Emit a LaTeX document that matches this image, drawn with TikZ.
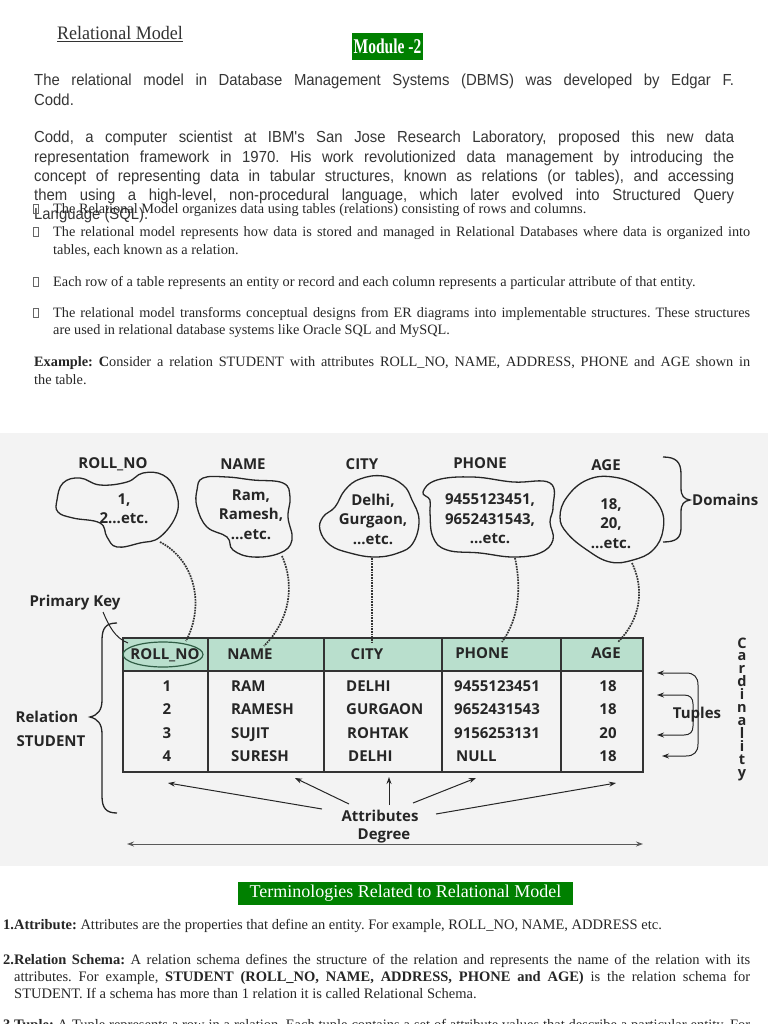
\documentclass[tikz,border=0pt]{standalone}
\usepackage{fontspec}
\setmainfont{Liberation Serif}
\newfontfamily\arialfont{Liberation Sans}[FakeStretch=0.93]
\newfontfamily\diagfont{Open Sans}
\usetikzlibrary{positioning,arrows.meta,calc}
\frenchspacing

\definecolor{modgreen}{HTML}{008000}
\definecolor{headfill}{HTML}{B9DFCD}
\definecolor{panelgray}{HTML}{F3F3F3}
\definecolor{keygreen}{HTML}{2F5D45}
\definecolor{inkgray}{HTML}{363636}

% one justified line of a paragraph
\newcommand{\jline}[2]{\makebox[#1][s]{#2}}

\tikzset{
  sanspara/.style={anchor=base west, inner sep=0pt, text=inkgray, font=\arialfont\fontsize{16}{19}\selectfont},
  serifpara/.style={anchor=base west, inner sep=0pt, text=black!85, font=\fontsize{14.3}{18}\selectfont},
  termpara/.style={anchor=base west, inner sep=0pt, text=black!85, font=\fontsize{14.5}{19}\selectfont},
  greenbox/.style={fill=modgreen, text=white, inner sep=0pt},
  bulletbox/.style={draw=black!60, line width=0.5pt},
  lbl/.style={inner sep=0pt, text=black!85, font=\diagfont\bfseries\fontsize{15}{19.5}\selectfont},
  cell/.style={lbl, anchor=base},
  lcell/.style={lbl, anchor=base west},
  blob/.style={line width=1.3pt, black!85},
  tablegrid/.style={line width=1.3pt, black!80},
  dotlink/.style={densely dotted, line width=1.7pt, black!80},
  attrarrow/.style={-{Stealth[length=7pt,width=5pt]}, line width=1pt, black!85},
  tuplearrow/.style={{Stealth[length=7pt,width=5pt]}-{Stealth[length=7pt,width=5pt]}, line width=1pt, black!85},
}

\begin{document}
\begin{tikzpicture}[x=1pt,y=-1pt]
\useasboundingbox (0,0) rectangle (768,1024);
\clip (0,0) rectangle (768,1024);
\fill[white] (0,0) rectangle (768,1024);
% grey panel behind the figure
\fill[panelgray] (0,433) rectangle (768,866);

% headings
\node[anchor=base, inner sep=0pt, text=black!80, font=\fontsize{19}{21}\selectfont] (title) at (120,40) {\underline{\scalebox{0.95}[1]{Relational Model}}};
\node[greenbox, minimum width=71, minimum height=27, font=\bfseries\fontsize{21}{22}\selectfont] (module) at (387.5,46.5) {\scalebox{0.74}[1]{Module -2}};

% intro text
\node[sanspara] (introA) at (34,86) {\jline{700pt}{The relational model in Database Management Systems (DBMS) was developed by Edgar F.}};
\node[sanspara] (introB) at (34,106) {Codd.};
\node[sanspara] (coddA) at (34,143) {\jline{700pt}{Codd, a computer scientist at IBM's San Jose Research Laboratory, proposed this new data}};
\node[sanspara] (coddB) at (34,163) {\jline{700pt}{representation framework in 1970. His work revolutionized data management by introducing the}};
\node[sanspara] (coddC) at (34,182) {\jline{700pt}{concept of representing data in tabular structures, known as relations (or tables), and accessing}};
\node[sanspara] (coddD) at (34,201) {\jline{700pt}{them using a high-level, non-procedural language, which later evolved into Structured Query}};
\node[sanspara] (coddE) at (34,220) {Language (SQL).};

% bullets
\draw[bulletbox] (33,204) rectangle (38,213);
\node[serifpara] (bulA) at (53,213.5) {The Relational Model organizes data using tables (relations) consisting of rows and columns.};
\draw[bulletbox] (33,227) rectangle (38,236);
\node[serifpara] (bulB) at (53,236.5) {\jline{697pt}{The relational model represents how data is stored and managed in Relational Databases where data is organized into}};
\node[serifpara] (bulBb) at (53,254.5) {tables, each known as a relation.};
\draw[bulletbox] (33,277) rectangle (38,286);
\node[serifpara] (bulC) at (53,286.5) {Each row of a table represents an entity or record and each column represents a particular attribute of that entity.};
\draw[bulletbox] (33,308) rectangle (38,317);
\node[serifpara] (bulD) at (53,317.5) {\jline{697pt}{The relational model transforms conceptual designs from ER diagrams into implementable structures. These structures}};
\node[serifpara] (bulDb) at (53,334.5) {are used in relational database systems like Oracle SQL and MySQL.};
\node[serifpara] (exA) at (34,366.5) {\jline{716pt}{\textbf{Example:} \textbf{C}onsider a relation STUDENT with attributes ROLL\_NO, NAME, ADDRESS, PHONE and AGE shown in}};
\node[serifpara] (exB) at (34,384.5) {the table.};

% domains
\draw[blob] plot[smooth cycle, tension=0.7] coordinates {(57,500) (63,483) (80,478) (100,485) (127,482) (143,473) (163,475) (175,490) (177,513) (160,537) (140,543) (117,547) (107,537) (100,523) (73,518) (58,512)};
\draw[blob] plot[smooth cycle, tension=0.7] coordinates {(197,490) (203,478) (227,477) (253,480) (283,483) (290,497) (288,517) (292,540) (280,553) (253,557) (233,550) (227,537) (207,527) (197,507)};
\draw[blob] plot[smooth cycle, tension=0.7] coordinates {(345,490) (360,479) (383,476) (403,485) (412,500) (419,520) (413,543) (398,553) (375,557) (350,553) (330,545) (320,530) (323,517) (335,507)};
\draw[blob] plot[smooth cycle, tension=0.7] coordinates {(423,492) (437,480) (473,477) (513,482) (550,483) (553,507) (550,522) (553,540) (540,553) (513,557) (480,553) (447,550) (433,537) (430,513) (430,500)};
\draw[blob] plot[smooth cycle, tension=0.7] coordinates {(560,517) (567,497) (587,480) (613,477) (640,487) (660,507) (663,530) (653,550) (633,560) (610,562) (587,550) (567,533)};
\node[lbl] (dRoll) at (113,464) {ROLL\_NO};
\node[lbl] (dName) at (243,464) {NAME};
\node[lbl] (dCity) at (362,464) {CITY};
\node[lbl] (dPhone) at (480,463) {PHONE};
\node[lbl] (dAge) at (606,465) {AGE};
\node[lbl, align=center] (vRoll) at (124,508.5) {1,\\2...etc.};
\node[lbl, align=center] (vName) at (251,514.5) {Ram,\\Ramesh,\\...etc.};
\node[lbl, align=center] (vCity) at (373,519) {Delhi,\\Gurgaon,\\...etc.};
\node[lbl, align=center] (vPhone) at (490,519) {9455123451,\\9652431543,\\...etc.};
\node[lbl, align=center] (vAge) at (611,523.5) {18,\\20,\\...etc.};
\draw[blob] (663,457) .. controls (676,457) and (681,462) .. (681,474) -- (681,488) .. controls (681,496) and (684,499) .. (690,500) .. controls (684,501) and (681,504) .. (681,512) -- (681,528) .. controls (681,538) and (676,542) .. (663,542);
\node[lbl, anchor=west] (domains) at (692,500) {Domains};

% table
\fill[headfill] (123,638) rectangle (643,671);
\draw[tablegrid] (123,638) rectangle (643,772);
\draw[tablegrid] (123,671) -- (643,671);
\draw[tablegrid] (208,638) -- (208,772);
\draw[tablegrid] (324,638) -- (324,772);
\draw[tablegrid] (442,638) -- (442,772);
\draw[tablegrid] (561,638) -- (561,772);
\node[cell] (hRoll) at (165,659) {ROLL\_NO};
\node[cell] (hName) at (250,659) {NAME};
\node[cell] (hCity) at (367,659) {CITY};
\node[cell] (hPhone) at (482,658) {PHONE};
\node[cell] (hAge) at (606,658) {AGE};
\draw[keygreen, line width=1.2pt] (163,654.5) ellipse [x radius=40pt, y radius=12.5pt];
\node[cell] (r1c1) at (167,691) {1};
\node[cell] (r2c1) at (167,714.5) {2};
\node[cell] (r3c1) at (167,738) {3};
\node[cell] (r4c1) at (167,761.5) {4};
\node[lcell] (r1c2) at (231,691) {RAM};
\node[lcell] (r2c2) at (231,714.5) {RAMESH};
\node[lcell] (r3c2) at (231,738) {SUJIT};
\node[lcell] (r4c2) at (231,761.5) {SURESH};
\node[lcell] (r1c3) at (346,691) {DELHI};
\node[lcell] (r2c3) at (346,714.5) {GURGAON};
\node[lcell] (r3c3) at (347,738) {ROHTAK};
\node[lcell] (r4c3) at (348,761.5) {DELHI};
\node[lcell] (r1c4) at (454,691) {9455123451};
\node[lcell] (r2c4) at (454,714.5) {9652431543};
\node[lcell] (r3c4) at (454,738) {9156253131};
\node[lcell] (r4c4) at (456,761.5) {NULL};
\node[cell] (r1c5) at (608,691) {18};
\node[cell] (r2c5) at (608,714.5) {18};
\node[cell] (r3c5) at (608,738) {20};
\node[cell] (r4c5) at (608,761.5) {18};

% dotted links domain -> column
\coordinate (bRoll) at (160,542);  \coordinate (tRoll) at (186,641);
\coordinate (bName) at (282,556);  \coordinate (tName) at (264,646);
\coordinate (bCity) at (372,558);  \coordinate (tCity) at (372,643);
\coordinate (bPhone) at (515,558); \coordinate (tPhone) at (502,642);
\coordinate (bAge) at (632,563);   \coordinate (tAge) at (618,642);
\draw[dotlink] (bRoll) .. controls (195,560) and (205,605) .. (tRoll);
\draw[dotlink] (bName) .. controls (295,585) and (290,620) .. (tName);
\draw[dotlink] (bCity) -- (tCity);
\draw[dotlink] (bPhone) .. controls (522,590) and (518,620) .. (tPhone);
\draw[dotlink] (bAge) .. controls (645,590) and (640,620) .. (tAge);

% primary key
\node[lbl] (pkey) at (75,603) {Primary Key};
\coordinate (pkStart) at (103,612);
\coordinate (pkEnd) at (128,643);
\draw[line width=1pt, black!85] (pkStart) .. controls (109,626) and (115,638) .. (pkEnd);

% relation brace
\draw[blob] (117,623) .. controls (106,623) and (102,628) .. (102,640) -- (102,700) .. controls (102,710) and (98,715) .. (90,717) .. controls (98,719) and (102,724) .. (102,734) -- (102,796) .. controls (102,808) and (106,813) .. (117,813);
\node[lbl] (relation) at (47,717) {Relation};
\node[lbl] (student) at (51,741) {STUDENT};

% tuples
\node[lbl] (tuples) at (697,715) {Tuples};
\coordinate (tupTop) at (657,673); \coordinate (tupBot) at (662,756);
\coordinate (tupB) at (657,695);   \coordinate (tupC) at (657,735);
\draw[tuplearrow] (tupTop) -- (686,673) .. controls (694,673) and (698,677) .. (698,685) -- (698,744) .. controls (698,752) and (694,756) .. (686,756) -- (tupBot);
\draw[tuplearrow] (tupB) -- (684,695) .. controls (690,695) and (693,698) .. (693,704) -- (693,726) .. controls (693,732) and (690,735) .. (684,735) -- (tupC);
\node[lbl, align=center, font=\diagfont\bfseries\fontsize{14.5}{12.9}\selectfont] (card) at (742,709) {C\\a\\r\\d\\i\\n\\a\\l\\i\\t\\y};

% attributes and degree
\node[lbl] (attr) at (380,816) {Attributes};
\node[lbl] (degree) at (384,836) {Degree};
\coordinate (sA) at (322,809); \coordinate (eA) at (168,783);
\coordinate (sB) at (349,804); \coordinate (eB) at (295,778);
\coordinate (sC) at (389,805); \coordinate (eC) at (389,777);
\coordinate (sD) at (413,803); \coordinate (eD) at (476,778);
\coordinate (sE) at (436,814); \coordinate (eE) at (616,783);
\draw[attrarrow] (sA) -- (eA);
\draw[attrarrow] (sB) -- (eB);
\draw[attrarrow] (sC) -- (eC);
\draw[attrarrow] (sD) -- (eD);
\draw[attrarrow] (sE) -- (eE);
\coordinate (degL) at (127,844); \coordinate (degR) at (643,844);
\draw[tuplearrow, black!65] (degL) -- (degR);

% terminologies
\node[greenbox, minimum width=335, minimum height=23, font=\fontsize{18}{20}\selectfont] (termhead) at (405.5,893.5) {Terminologies Related to Relational Model};
\node[termpara] (termA) at (3,929) {\textbf{1.Attribute:} Attributes are the properties that define an entity. For example, ROLL\_NO, NAME, ADDRESS etc.};
\node[termpara] (termB) at (3,964) {\jline{747pt}{\textbf{2.Relation Schema:} A relation schema defines the structure of the relation and represents the name of the relation with its}};
\node[termpara] (termBb) at (14,981) {\jline{736pt}{attributes. For example, \textbf{STUDENT (ROLL\_NO, NAME, ADDRESS, PHONE and AGE)} is the relation schema for}};
\node[termpara] (termBc) at (14,998.5) {STUDENT. If a schema has more than 1 relation it is called Relational Schema.};
\node[termpara] (termC) at (3,1029) {\jline{747pt}{\textbf{3.Tuple:} A Tuple represents a row in a relation. Each tuple contains a set of attribute values that describe a particular entity. For}};
\end{tikzpicture}
\end{document}
